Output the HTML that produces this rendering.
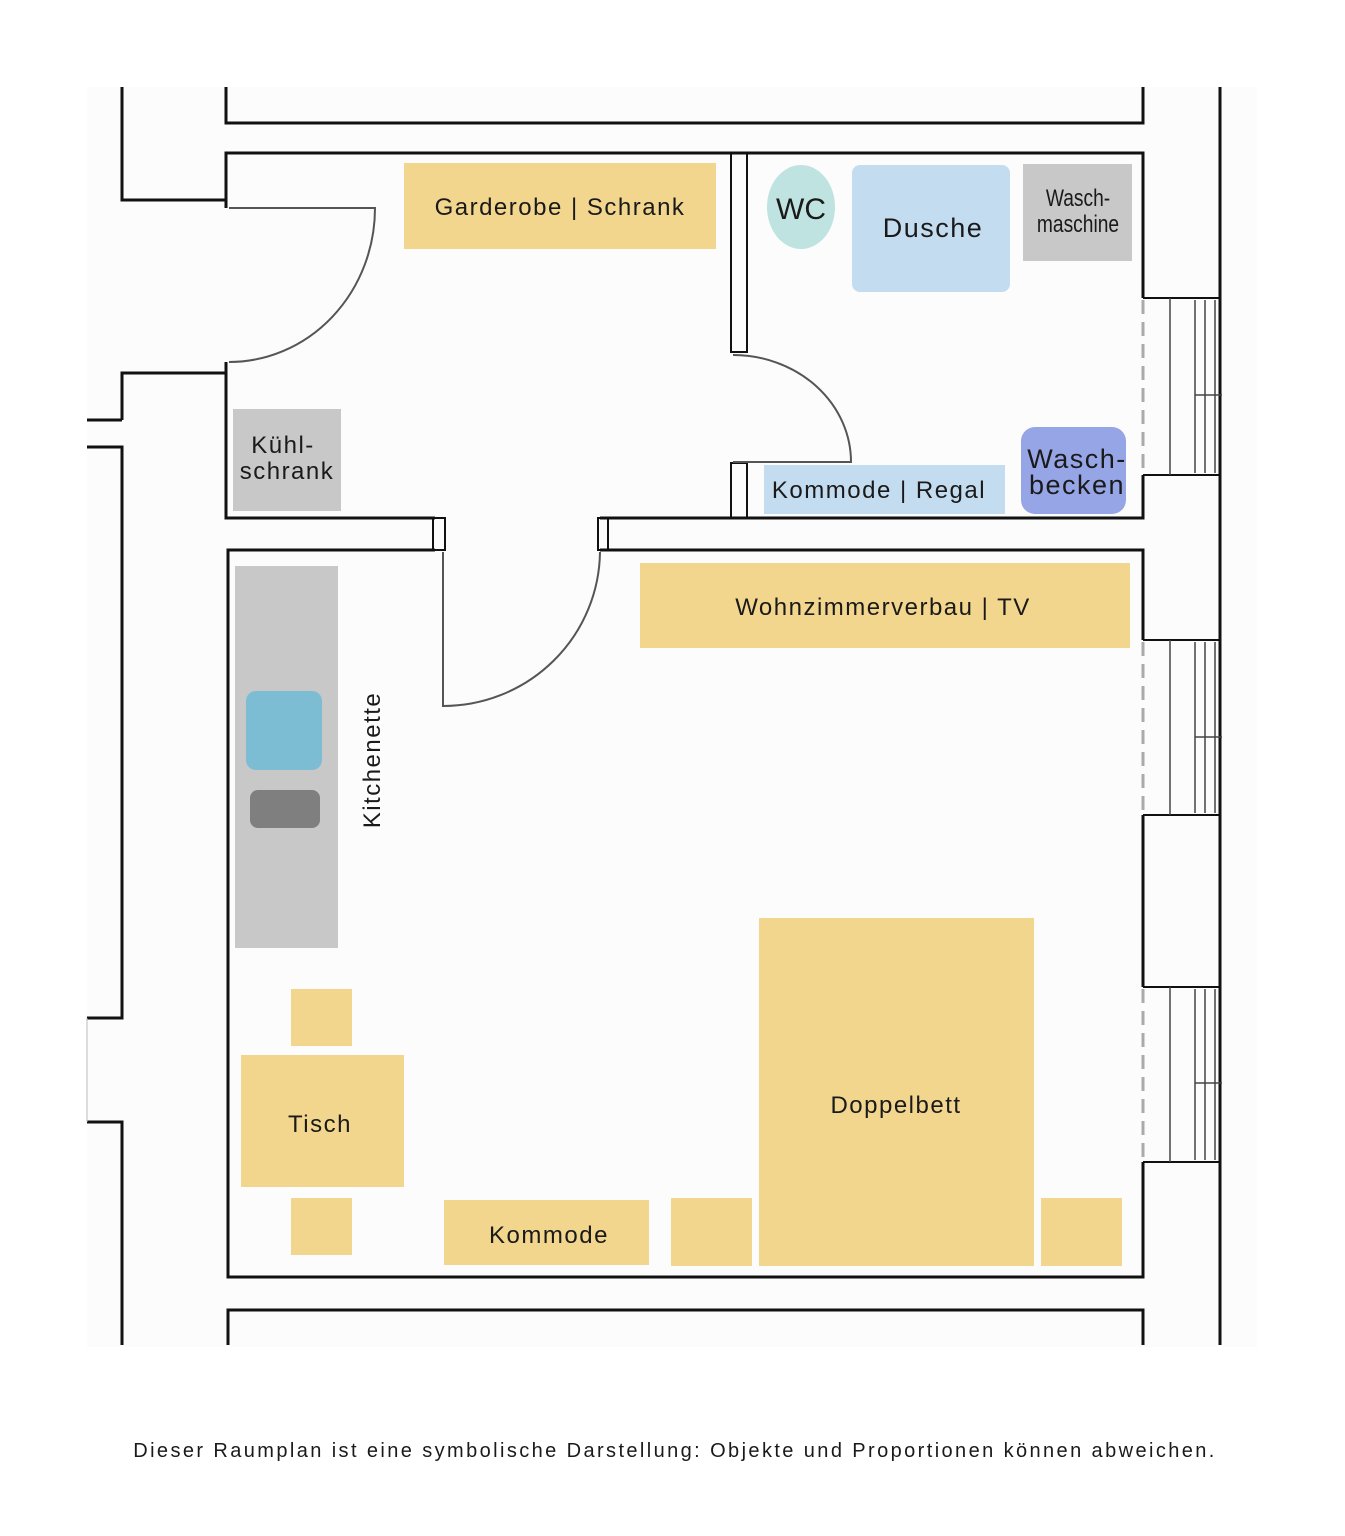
<!DOCTYPE html>
<html><head><meta charset="utf-8"><style>
html,body{margin:0;padding:0;background:#fff;}
svg{display:block}
text{font-family:"Liberation Sans",sans-serif;fill:#1a1a1a;letter-spacing:1.5px}
</style></head><body>
<svg width="1345" height="1536" viewBox="0 0 1345 1536" xmlns="http://www.w3.org/2000/svg">
<rect width="1345" height="1536" fill="#fff"/>
<rect x="87" y="87" width="1170" height="1260" fill="#fcfcfc"/>
<g>
<rect x="404" y="163" width="312" height="86" fill="#f3d68e"/>
<ellipse cx="801" cy="207" rx="34" ry="42" fill="#bfe3e0"/>
<rect x="852" y="165" width="158" height="127" rx="8" fill="#c4dcf0"/>
<rect x="1023" y="164" width="109" height="97" fill="#c8c8c8"/>
<rect x="233" y="409" width="108" height="102" fill="#c8c8c8"/>
<rect x="764" y="465" width="241" height="49" fill="#c4dcf0"/>
<rect x="1021" y="427" width="105" height="87" rx="14" fill="#96a5e6"/>
<rect x="640" y="563" width="490" height="85" fill="#f3d68e"/>
<rect x="235" y="566" width="103" height="382" fill="#c8c8c8"/>
<rect x="246" y="691" width="76" height="79" rx="10" fill="#7cbdd3"/>
<rect x="250" y="790" width="70" height="38" rx="8" fill="#7f7f7f"/>
<rect x="291" y="989" width="61" height="57" fill="#f3d68e"/>
<rect x="291" y="1198" width="61" height="57" fill="#f3d68e"/>
<rect x="241" y="1055" width="163" height="132" fill="#f3d68e"/>
<rect x="444" y="1200" width="205" height="65" fill="#f3d68e"/>
<rect x="671" y="1198" width="81" height="68" fill="#f3d68e"/>
<rect x="759" y="918" width="275" height="348" fill="#f3d68e"/>
<rect x="1041" y="1198" width="81" height="68" fill="#f3d68e"/>
</g>
<g fill="none" stroke="#111" stroke-width="3">
<polyline points="122,87 122,200 226,200 226,208"/>
<polyline points="226,87 226,123 1143,123 1143,87"/>
<polyline points="1143,298 1143,153 226,153 226,208"/>
<polyline points="122,420 87,420"/>
<polyline points="226,362 226,518 435,518"/>
<polyline points="122,420 122,373 226,373"/>
<polyline points="87,447 122,447 122,1018 87,1018"/>
<polyline points="87,1122 122,1122 122,1345"/>
<polyline points="435,550 228,550 228,1277 1143,1277 1143,1162"/>
<polyline points="228,1345 228,1310 1143,1310 1143,1345"/>
<line x1="1220" y1="87" x2="1220" y2="1345"/>
<polyline points="600,518 1143,518 1143,475"/>
<polyline points="600,550 1143,550 1143,640"/>
<polyline points="1143,815 1143,987"/>
</g>
<line x1="87" y1="1018" x2="87" y2="1122" stroke="#bbb" stroke-width="1"/>
<g fill="none" stroke="#111" stroke-width="2">
<rect x="433" y="518" width="12" height="32"/>
<rect x="598" y="518" width="10" height="32"/>
<rect x="731" y="153" width="16" height="199"/>
<rect x="731" y="463" width="16" height="55"/>
<line x1="1143" y1="298" x2="1220" y2="298"/>
<line x1="1143" y1="475" x2="1220" y2="475"/>
<line x1="1143" y1="640" x2="1220" y2="640"/>
<line x1="1143" y1="815" x2="1220" y2="815"/>
<line x1="1143" y1="987" x2="1220" y2="987"/>
<line x1="1143" y1="1162" x2="1220" y2="1162"/>
</g>
<g fill="none" stroke="#444" stroke-width="1.5">
<line x1="1170" y1="298" x2="1170" y2="475"/><line x1="1195" y1="300" x2="1195" y2="473"/><line x1="1205" y1="300" x2="1205" y2="473"/><line x1="1215" y1="300" x2="1215" y2="473"/><line x1="1195" y1="395" x2="1222" y2="395"/>
<line x1="1170" y1="640" x2="1170" y2="815"/><line x1="1195" y1="642" x2="1195" y2="813"/><line x1="1205" y1="642" x2="1205" y2="813"/><line x1="1215" y1="642" x2="1215" y2="813"/><line x1="1195" y1="737" x2="1222" y2="737"/>
<line x1="1170" y1="987" x2="1170" y2="1162"/><line x1="1195" y1="989" x2="1195" y2="1160"/><line x1="1205" y1="989" x2="1205" y2="1160"/><line x1="1215" y1="989" x2="1215" y2="1160"/><line x1="1195" y1="1083" x2="1222" y2="1083"/>
</g>
<g stroke="#aaa" stroke-width="3" stroke-dasharray="14,8">
<line x1="1143" y1="300" x2="1143" y2="473"/>
<line x1="1143" y1="642" x2="1143" y2="813"/>
<line x1="1143" y1="989" x2="1143" y2="1160"/>
</g>
<g fill="none" stroke="#555" stroke-width="2">
<path d="M229,208 L375,208 A146,154 0 0 1 229,362"/>
<path d="M733,355 A118,107 0 0 1 851,462 L733,462"/>
<path d="M443,552 L443,706 A157,156 0 0 0 600,552"/>
</g>
<g font-size="24">
<text x="560" y="215" text-anchor="middle">Garderobe | Schrank</text>
<text x="801" y="219" text-anchor="middle" font-size="30" style="letter-spacing:0">WC</text>
<text x="933" y="237" text-anchor="middle" font-size="27">Dusche</text>
<text x="1078" y="206" text-anchor="middle" font-size="24" style="letter-spacing:0" transform="translate(1078 0) scale(0.8 1) translate(-1078 0)">Wasch-</text>
<text x="1078" y="232" text-anchor="middle" font-size="24" style="letter-spacing:0" transform="translate(1078 0) scale(0.8 1) translate(-1078 0)">maschine</text>
<text x="283" y="453" text-anchor="middle">Kühl-</text>
<text x="287" y="479" text-anchor="middle">schrank</text>
<text x="879" y="498" text-anchor="middle">Kommode | Regal</text>
<text x="1077" y="468" text-anchor="middle" font-size="27">Wasch-</text>
<text x="1077" y="494" text-anchor="middle" font-size="27">becken</text>
<text x="883" y="615" text-anchor="middle">Wohnzimmerverbau | TV</text>
<text x="0" y="0" text-anchor="middle" transform="translate(380 760) rotate(-90)">Kitchenette</text>
<text x="320" y="1132" text-anchor="middle">Tisch</text>
<text x="549" y="1243" text-anchor="middle">Kommode</text>
<text x="896" y="1113" text-anchor="middle">Doppelbett</text>
<text x="675" y="1457" text-anchor="middle" font-size="20" style="letter-spacing:2.4px">Dieser Raumplan ist eine symbolische Darstellung: Objekte und Proportionen können abweichen.</text>
</g>
</svg>
</body></html>
